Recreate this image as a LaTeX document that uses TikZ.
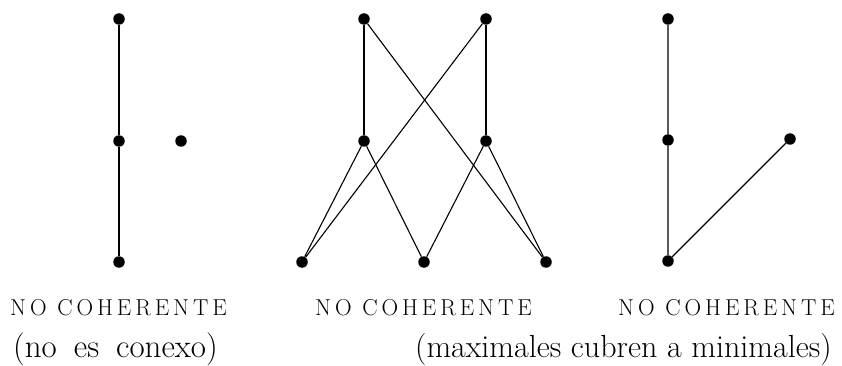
\documentclass[tikz,border=0pt]{standalone}
\usepackage{fontspec}
\newcommand\gp{\kern3.9pt}
\newcommand\nocoh{N\gp O\gp\ C\gp O\gp H\gp E\gp R\gp E\gp N\gp T\gp E}
\begin{document}
\begin{tikzpicture}[x=1pt,y=-1pt,
  dot/.style={circle,fill=black,inner sep=0pt,minimum size=11.5pt},
  edge/.style={line width=1.1pt},
  caps/.style={inner sep=0pt,font=\fontsize{23}{27}\selectfont},
  lbl/.style={inner sep=0pt,font=\fontsize{32}{38}\selectfont}]
\useasboundingbox (0,0) rectangle (842,366);
% left
\node[dot] (a1) at (119,19) {};
\node[dot] (a2) at (119,141) {};
\node[dot] (a3) at (119,262) {};
\node[dot] (a4) at (181,141) {};
\draw[edge] (a1) -- (a2) -- (a3);
% middle
\node[dot] (t1) at (364,19) {};
\node[dot] (t2) at (486,19) {};
\node[dot] (m1) at (364,141) {};
\node[dot] (m2) at (486,141) {};
\node[dot] (b1) at (302,262) {};
\node[dot] (b2) at (424,262) {};
\node[dot] (b3) at (546,262) {};
\draw[edge] (t1) -- (m1);
\draw[edge] (t2) -- (m2);
\draw[edge] (t1) -- (b3);
\draw[edge] (t2) -- (b1);
\draw[edge] (m1) -- (b1);
\draw[edge] (m1) -- (b2);
\draw[edge] (m2) -- (b2);
\draw[edge] (m2) -- (b3);
% right
\node[dot] (r1) at (668,19) {};
\node[dot] (r2) at (668,140) {};
\node[dot] (r3) at (668,261) {};
\node[dot] (r4) at (790,139) {};
\draw[edge] (r1) -- (r2) -- (r3) -- (r4);
% labels
\node[caps,anchor=base west] (l1) at (10,315) {\nocoh};
\node[caps,anchor=base west] (l2) at (315,315) {\nocoh};
\node[caps,anchor=base west] (l3) at (618,315) {\nocoh};
\node[lbl,font=\fontsize{33}{38}\selectfont,anchor=base west] (s1) at (13,357) {(no\hspace{17pt}es\hspace{17pt}conexo)};
\node[lbl,anchor=base west] (s2) at (415,357) {(maximales cubren a minimales)};
\end{tikzpicture}
\end{document}
